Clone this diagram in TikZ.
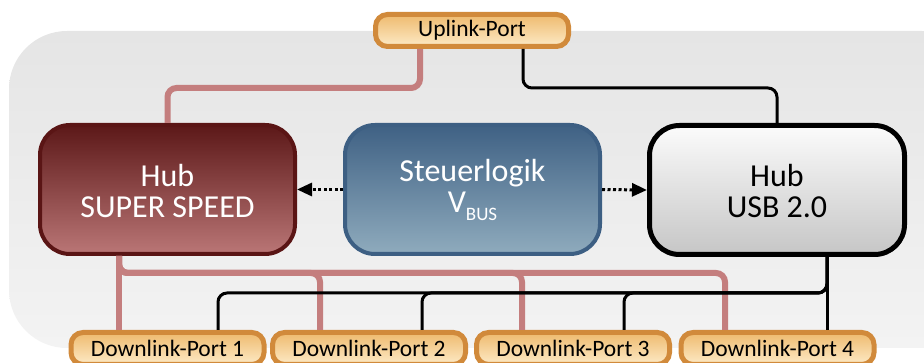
\documentclass[tikz,border=0pt]{standalone}
\usepackage{fontspec}
\setmainfont{Carlito}
\usetikzlibrary{arrows.meta}

\definecolor{ssborder}{HTML}{5A1515}
\definecolor{sstop}{HTML}{5C1818}
\definecolor{ssbot}{HTML}{BA7676}
\definecolor{ctlborder}{HTML}{3D5F83}
\definecolor{ctltop}{HTML}{3F6184}
\definecolor{ctlbot}{HTML}{8FABBD}
\definecolor{usbtop}{HTML}{FBFBFB}
\definecolor{usbbot}{HTML}{C6C6C6}
\definecolor{portborder}{HTML}{D18A3B}
\definecolor{porttop}{HTML}{EEBA6E}
\definecolor{portbot}{HTML}{FDEAC6}
\definecolor{ssline}{HTML}{C47E7E}
\definecolor{bgtop}{HTML}{E5E5E5}
\definecolor{bgbot}{HTML}{F3F3F3}

\tikzset{
  hubbox/.style={rounded corners=30pt, minimum width=255pt, minimum height=129pt,
    align=center, font=\fontsize{32}{31}\selectfont, inner sep=0pt,
    text height=57pt, text depth=0pt},
  portbox/.style={draw=portborder, line width=5pt, rounded corners=12pt,
    top color=porttop, bottom color=portbot, minimum width=193pt, minimum height=32pt,
    inner sep=0pt, font=\fontsize{23.5}{24}\selectfont},
  ssline/.style={draw=ssline, line width=6pt, rounded corners=9pt},
  usbline/.style={draw=black, line width=3pt, rounded corners=9pt},
  ctlarrow/.style={line width=3pt, dash pattern=on 3pt off 2.5pt,
    -{Triangle[length=15pt,width=13pt]}}
}

\begin{document}
\begin{tikzpicture}[x=1pt,y=-1pt]
\useasboundingbox (0,0) rectangle (924,363);

% grey housing
\shade[top color=bgtop, bottom color=bgbot, rounded corners=58pt] (9,31) rectangle (980,348);

% hubs and control logic
\node[hubbox, draw=ssborder, line width=4pt, top color=sstop, bottom color=ssbot, text=white]
  (ss) at (167.5,189.5) {Hub\\SUPER SPEED};
\node[hubbox, draw=ctlborder, line width=4pt, top color=ctltop, bottom color=ctlbot, text=white,
  text height=47pt]
  (ctl) at (472.5,189.5) {Steuerlogik\\V\raisebox{-8pt}{\fontsize{19}{19}\selectfont BUS}};
\node[hubbox, draw=black, line width=5pt, top color=usbtop, bottom color=usbbot, text=black,
  text height=56pt]
  (usb) at (777,190) {Hub\\USB 2.0};

% ports
\node[portbox] (up) at (472,30.5) {Uplink-Port};
\node[portbox] (d1) at (167.5,348.5) {Downlink-Port 1};
\node[portbox] (d2) at (369,348.5) {Downlink-Port 2};
\node[portbox] (d3) at (573,348.5) {Downlink-Port 3};
\node[portbox] (d4) at (777.5,348.5) {Downlink-Port 4};

% bend points
\coordinate (ua) at (420,88);
\coordinate (ub) at (523,88);
\coordinate (p1) at (119,273);
\coordinate (p2) at (320,273);
\coordinate (p3) at (522,273);
\coordinate (p4) at (725,273);
\coordinate (b1) at (218,293);
\coordinate (b2) at (422,293);
\coordinate (b3) at (624,293);
\coordinate (b4) at (827,293);

% super speed wiring
\draw[ssline] (ss.north) |- (ua) -- (ua |- up.south);
\draw[ssline] (ss.south -| p1) -- (d1.north -| p1);
\draw[ssline] (ss.south -| p1) |- (p2) -- (d2.north -| p2);
\draw[ssline] (ss.south -| p1) |- (p3) -- (d3.north -| p3);
\draw[ssline] (ss.south -| p1) |- (p4) -- (d4.north -| p4);

% USB 2.0 wiring
\draw[usbline] (usb.north) |- (ub) -- (ub |- up.south);
\draw[usbline] (usb.south -| b4) -- (d4.north -| b4);
\draw[usbline] (usb.south -| b4) |- (b3) -- (d3.north -| b3);
\draw[usbline] (usb.south -| b4) |- (b2) -- (d2.north -| b2);
\draw[usbline] (usb.south -| b4) |- (b1) -- (d1.north -| b1);

% control signals
\draw[ctlarrow] (ctl.west) -- (ss.east);
\draw[ctlarrow] (ctl.east) -- (usb.west);
\end{tikzpicture}
\end{document}
